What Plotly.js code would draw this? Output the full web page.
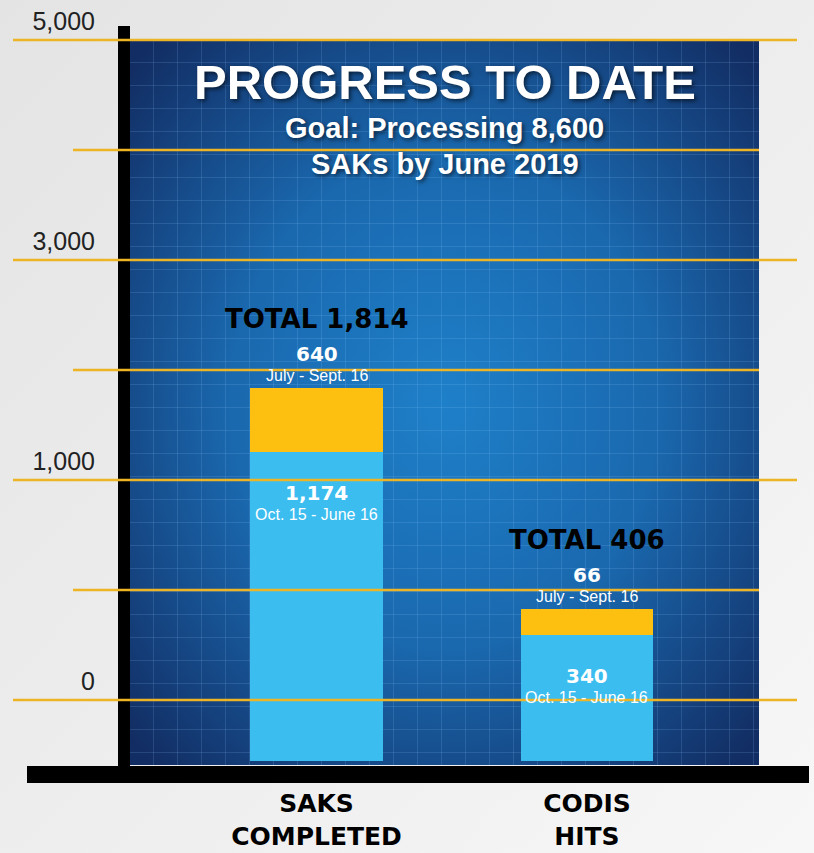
<!DOCTYPE html>
<html><head><meta charset="utf-8">
<script src="https://cdn.plot.ly/plotly-3.0.1.min.js"></script>
<style>html,body{margin:0;padding:0;background:#ececec;} #chart{width:814px;height:853px;}</style>
</head><body><div id="chart"></div>
<script>
// ---- data ----
const categories = ['SAKS<br>COMPLETED', 'CODIS<br>HITS'];
const earlyValues = [1174, 340];   // Oct. 15 - June 16
const lateValues = [640, 66];      // July - Sept. 16
const earlyPeriod = 'Oct. 15 - June 16';
const latePeriod = 'July - Sept. 16';
const gridTickValues = [0, 1, 2, 3, 4, 5, 6];
const gridTickText = ['0', '', '1,000', '', '3,000', '', '5,000'];
const titleLines = ['PROGRESS TO DATE', 'Goal: Processing 8,600', 'SAKs by June 2019'];

// ---- style ----
const BLUE = '#3BBDF0', GOLD = '#FDC010', LINE = '#EDB526';
const totals = earlyValues.map((v, i) => v + lateValues[i]);
const fmt = v => v.toLocaleString('en-US');

const traces = [
  {type: 'bar', x: categories, y: earlyValues, name: earlyPeriod, marker: {color: BLUE}, width: 0.49, hoverinfo: 'skip'},
  {type: 'bar', x: categories, y: lateValues, name: latePeriod, marker: {color: GOLD}, width: 0.49, hoverinfo: 'skip'}
];

const panelSvg = `<svg xmlns="http://www.w3.org/2000/svg" width="629" height="725" viewBox="0 0 629 725">
<defs><radialGradient id="g" cx="50%" cy="50%" r="68%"><stop offset="0" stop-color="#1e80c9"/><stop offset="0.5" stop-color="#1a68ae"/><stop offset="1" stop-color="#122d63"/></radialGradient>
<pattern id="p" width="24" height="23" patternUnits="userSpaceOnUse"><path d="M23.5 0V23M0 22.5H24" fill="none" stroke="rgba(140,200,255,0.16)" stroke-width="1"/></pattern></defs>
<rect width="629" height="725" fill="url(#g)"/><rect width="629" height="725" fill="url(#p)"/></svg>`;
const pageSvg = `<svg xmlns="http://www.w3.org/2000/svg" width="814" height="853" viewBox="0 0 814 853">
<defs><linearGradient id="b" x1="0" y1="0" x2="1" y2="1"><stop offset="0" stop-color="#e4e4e4"/><stop offset="0.6" stop-color="#efefef"/><stop offset="1" stop-color="#f7f7f7"/></linearGradient></defs>
<rect width="814" height="853" fill="url(#b)"/></svg>`;
const uri = s => 'data:image/svg+xml;charset=utf-8,' + encodeURIComponent(s);

// pixel helpers for decorations (plot area: x 130..759, y 20..761)
const PL = 130, PW = 629, PB = 761, PH = 741;
const px = x => (x - PL) / PW;
const py = y => (PB - y) / PH;

const shapes = [
  {type: 'rect', xref: 'paper', yref: 'paper', x0: px(118), x1: px(130), y0: py(783), y1: py(26), fillcolor: '#000', line: {width: 0}, layer: 'above'},
  {type: 'rect', xref: 'paper', yref: 'paper', x0: px(27), x1: px(809), y0: py(783), y1: py(766), fillcolor: '#000', line: {width: 0}, layer: 'above'}
];
gridTickValues.forEach((v, i) => {
  const labelled = gridTickText[i] !== '';
  shapes.push({type: 'line', xref: 'paper', yref: 'y2', x0: labelled ? px(13) : px(73), x1: labelled ? px(797) : px(759),
    y0: v, y1: v, line: {color: LINE, width: 2.5}, layer: 'above'});
});

const ann = [];
const shadow = '2px 2px 4px rgba(0,0,0,0.6)';
const titleY = [82, 128, 164], titleSize = [49, 29, 29];
titleLines.forEach((t, i) => {
  ann.push({xref: 'paper', yref: 'paper', x: 0.5, y: py(titleY[i]), xanchor: 'center', yanchor: 'middle',
    text: '<b>' + t + '</b>', showarrow: false,
    font: {family: 'Liberation Sans, Arial, sans-serif', size: titleSize[i], color: '#fff', shadow: shadow}});
});

const numFont = {family: 'DejaVu Sans, sans-serif', size: 20, color: '#fff', weight: 700};
const perFont = {family: 'Liberation Sans, Arial, sans-serif', size: 16, color: '#fff'};
categories.forEach((c, i) => {
  const top = Math.log10(totals[i]);
  const mid = Math.log10(earlyValues[i]);
  const base = {x: i, xref: 'x', yref: 'y', showarrow: false, xanchor: 'center', yanchor: 'middle'};
  ann.push(Object.assign({}, base, {y: top, yshift: 69, text: '<b>TOTAL ' + fmt(totals[i]) + '</b>',
    font: {family: 'DejaVu Sans, sans-serif', size: 26, color: '#000'}}));
  ann.push(Object.assign({}, base, {y: top, yshift: 34, text: '<b>' + fmt(lateValues[i]) + '</b>', font: numFont}));
  ann.push(Object.assign({}, base, {y: top, yshift: 13, text: latePeriod, font: perFont}));
  ann.push(Object.assign({}, base, {y: mid, yshift: -41, text: '<b>' + fmt(earlyValues[i]) + '</b>', font: numFont}));
  ann.push(Object.assign({}, base, {y: mid, yshift: -62, text: earlyPeriod, font: perFont}));
});

const layout = {
  width: 814, height: 853,
  margin: {l: 130, r: 55, t: 20, b: 92},
  paper_bgcolor: '#ececec', plot_bgcolor: 'rgba(0,0,0,0)',
  barmode: 'stack', showlegend: false, hovermode: false,
  xaxis: {type: 'category', range: [-0.6895, 1.636], showgrid: false, zeroline: false, showline: false, ticks: '',
    tickfont: {family: 'DejaVu Sans, sans-serif', size: 25, color: '#000', weight: 700}, ticklabelstandoff: 25},
  yaxis: {type: 'log', range: [2.1617, 4.3411], showgrid: false, zeroline: false, showline: false, showticklabels: false, ticks: ''},
  yaxis2: {overlaying: 'y', side: 'left', range: [-0.5545, 6.1818], tickvals: gridTickValues, ticktext: gridTickText,
    showgrid: false, zeroline: false, showline: false, ticks: '', ticklabelstandoff: 34, ticklabelshift: -19,
    tickfont: {family: 'Liberation Sans, Arial, sans-serif', size: 25, color: '#222'}},
  images: [
    {source: uri(pageSvg), xref: 'paper', yref: 'paper', x: px(0), y: py(0), sizex: 814 / PW, sizey: 853 / PH, sizing: 'stretch', xanchor: 'left', yanchor: 'top', layer: 'below'},
    {source: uri(panelSvg), xref: 'paper', yref: 'paper', x: 0, y: py(40), sizex: 1, sizey: 725 / PH, sizing: 'stretch', xanchor: 'left', yanchor: 'top', layer: 'below'}
  ],
  shapes: shapes,
  annotations: ann
};
Plotly.newPlot('chart', traces, layout, {displayModeBar: false, staticPlot: true});
</script></body></html>
